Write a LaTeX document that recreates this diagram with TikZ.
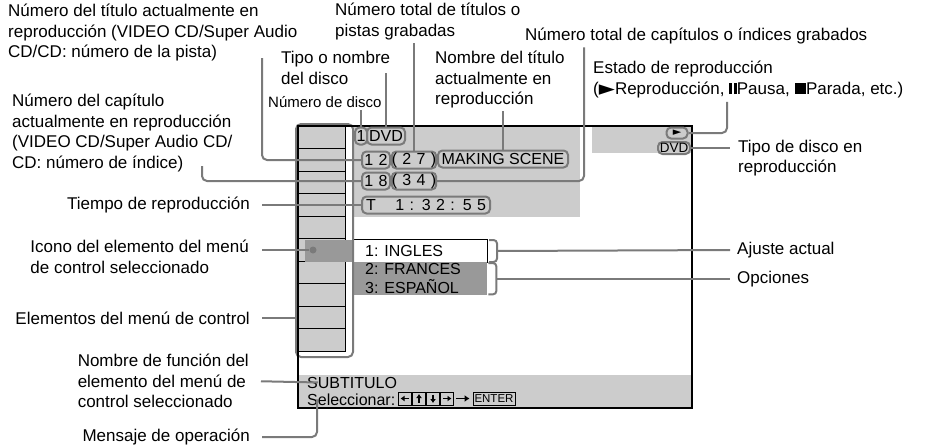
\documentclass[tikz,border=0pt]{standalone}
\usepackage{fontspec}
\setmainfont{Liberation Sans}
\newfontfamily\symfont{DejaVu Sans}
\usetikzlibrary{arrows.meta,positioning,calc}
\definecolor{linegray}{HTML}{7A7A7A}
\definecolor{screengray}{HTML}{CCCCCC}
\definecolor{selgray}{HTML}{999999}

\begin{document}
\begin{tikzpicture}[x=1pt,y=-1pt,font=\fontsize{17}{20.5}\selectfont,
  lbl/.style={inner sep=0pt,align=left},
  conn/.style={linegray,line width=2pt,rounded corners=5pt},
  scr/.style={draw=linegray,line width=2pt,rounded corners=4.5pt,inner sep=0pt,
    minimum height=17pt,font=\fontsize{16}{16}\selectfont},
  scrtxt/.style={inner sep=0pt,anchor=base west,font=\fontsize{16}{16}\selectfont},
  keybox/.style={draw,line width=0.9pt,minimum width=13pt,minimum height=13pt,inner sep=0pt}]
  \useasboundingbox (0,0) rectangle (932,447);

  % screen areas
  \fill[screengray] (352,126) rectangle (580,217);
  \fill[screengray] (592,126) rectangle (692,153);
  \fill[screengray] (298,375) rectangle (692,408);
  \foreach \r in {0,...,9}
    \draw[fill=screengray,line width=1pt] (298,126+22.5*\r) rectangle (345,148.5+22.5*\r);
  \fill[selgray] (305,240) rectangle (352,262);
  \node[circle,fill=linegray,inner sep=0pt,minimum size=7pt] (dot) at (313,250) {};
  \node[draw,line width=1pt,fill=white,anchor=north west,inner sep=0pt,
    minimum width=135pt,minimum height=23pt] (ingles) at (352,239) {};
  \node[fill=selgray,anchor=north west,inner sep=0pt,
    minimum width=135pt,minimum height=33pt] (opts) at (352,262) {};
  \node[scrtxt] at (365,256) {1: INGLES};
  \node[scrtxt] at (365,274) {2: FRANCES};
  \node[scrtxt] at (365,293) {3: ESPAÑOL};
  \node[draw=linegray,line width=2pt,rounded corners=5pt,anchor=north west,inner sep=0pt,
    minimum width=57pt,minimum height=233pt] (menu) at (295,123) {};
  \draw[line width=2pt] (298,126) rectangle (692,408);

  % info on screen
  \node[scr,minimum width=12pt] (disc) at (361,136) {1};
  \node[scr,minimum width=38pt] (dvd) at (386,136) {DVD};
  \node[scr,minimum width=28pt] (tit) at (376,160) {1\,\,2};
  \node[scr,minimum width=42pt] (tottit) at (414,160) {(\,\,2\,\,7\,\,)};
  \node[scr,minimum width=130pt] (name) at (503,159) {MAKING SCENE};
  \node[scr,minimum width=28pt] (chap) at (376,181) {1\,\,8};
  \node[scr,minimum width=42pt] (totchap) at (414,181) {(\,\,3\,\,4\,\,)};
  \node[scr,minimum width=128pt,text width=120pt] (time) at (426,205) {T\hfill 1 : 3 2 : 5 5};
  \node[scr,minimum width=21pt,minimum height=11pt,font=\symfont\fontsize{11}{11}\selectfont] (play) at (677,133) {►};
  \node[scr,minimum width=32pt,minimum height=12pt,font=\fontsize{13.5}{13.5}\selectfont] (dvdtype) at (674,148) {DVD};

  % bottom bar
  \node[scrtxt] (func) at (307,388) {SUBTITULO};
  \node[scrtxt] (msg) at (307,405) {Seleccionar:};
  \foreach \k/\x/\a in {kl/405/180,ku/419/90,kd/433/270,kr/447/0} {
    \node[keybox] (\k) at (\x,398.5) {};
    \draw[-{Latex[length=4pt,width=6pt]},line width=1.4pt]
      ([shift={(\a+180:4pt)}]\k.center) -- ([shift={(\a:4.5pt)}]\k.center);
  }
  \node[draw,line width=0.9pt,inner sep=1.5pt,minimum height=13pt,font=\fontsize{11.5}{11.5}\selectfont] (enter) at (494,398.5) {ENTER};
  \draw[-{Latex[length=5pt,width=7pt]},line width=1.6pt] (kr.east) ++(2,0) -- ([xshift=-3pt]enter.west);

  % labels
  \node[lbl,anchor=north west] (lblTitle) at (8,4) {Número del título actualmente en\\reproducción (VIDEO CD/Super Audio\\CD/CD: número de la pista)};
  \node[lbl,anchor=north west] (lblChap) at (12,94) {Número del capítulo\\actualmente en reproducción\\(VIDEO CD/Super Audio CD/\\CD: número de índice)};
  \node[lbl,anchor=north west] (lblType) at (281,51) {Tipo o nombre\\del disco};
  \node[lbl,anchor=north west,font=\fontsize{15}{15}\selectfont] (lblDisc) at (268,96) {Número de disco};
  \node[lbl,anchor=north west] (lblTotTit) at (335,3) {Número total de títulos o\\pistas grabadas};
  \node[lbl,anchor=north west] (lblName) at (435,51) {Nombre del título\\actualmente en\\reproducción};
  \node[lbl,anchor=north west] (lblTotChap) at (525,28) {Número total de capítulos o índices grabados};
  \node[lbl,anchor=north west] (lblState) at (593,61) {Estado de reproducción\\({\symfont\fontsize{21}{20}\selectfont\raisebox{-1pt}{►}}Reproducción, \rule{3pt}{11.5pt}\hspace{1.5pt}\rule{3pt}{11.5pt}Pausa, \rule{11.5pt}{11.5pt}Parada, etc.)};
  \node[lbl,anchor=west] (lblDiscType) at (738,158) {Tipo de disco en\\reproducción};
  \node[lbl,anchor=east] (lblTime) at (250,205) {Tiempo de reproducción};
  \node[lbl,anchor=east] (lblIcon) at (249,257) {Icono del elemento del menú\\de control seleccionado};
  \node[lbl,anchor=east] (lblItems) at (250,318) {Elementos del menú de control};
  \node[lbl,anchor=east] (lblFunc) at (249,381) {Nombre de función del\\elemento del menú de\\control seleccionado};
  \node[lbl,anchor=east] (lblMsg) at (250,437) {Mensaje de operación};
  \node[lbl,anchor=west] (lblCur) at (737,250) {Ajuste actual};
  \node[lbl,anchor=west] (lblOpt) at (737,279) {Opciones};

  % connectors
  \coordinate (titleTail) at (262,58);
  \coordinate (chapTail) at (202,166);
  \draw[conn] (titleTail) |- (tit.west);
  \draw[conn] (chapTail) |- (chap.west);
  \draw[conn] (dvd.north) -- ([yshift=-5pt]dvd.north |- lblType.east);
  \draw[conn] (disc.north) -- ([yshift=-2pt]disc.north |- lblDisc.south);
  \draw[conn] (tottit.north) -- ([yshift=-3pt]tottit.north |- lblTotTit.south);
  \draw[conn] (name.north) -- ([yshift=-3pt]name.north |- lblName.south);
  \draw[conn] ([xshift=59pt,yshift=-3pt]lblTotChap.south west) |- (totchap.east);
  \draw[conn] ([xshift=134pt,yshift=-4pt]lblState.south west) |- (play.east);
  \draw[conn,shorten >=8pt] (dvdtype.east) -- (dvdtype.east -| lblDiscType.west);
  \draw[conn,shorten <=12pt] (lblTime.east) -- (time.west);
  \draw[conn] ($(dot -| lblIcon.east)+(13,0)$) -- (dot);
  \draw[conn,shorten <=12pt] (lblItems.east) -- (lblItems.east -| menu.west);
  \draw[conn,shorten <=12pt] (lblFunc.east) -- ($(func.west)+(11,0)$);
  \draw[conn] ($(lblMsg.east)+(12,0)$) -| ($(msg.west)+(10,0)$);
  \draw[conn,rounded corners=3.5pt] ([xshift=1pt,yshift=-1pt]ingles.north east) -| ([xshift=9pt]ingles.east) |- ([xshift=1pt,yshift=1pt]ingles.south east);
  \draw[conn,shorten >=7pt] ([xshift=9pt]ingles.east) -- (lblCur.west);
  \draw[conn,rounded corners=3.5pt] ([xshift=1pt,yshift=-1pt]opts.north east) -| ([xshift=9pt]opts.east) |- ([xshift=1pt,yshift=1pt]opts.south east);
  \draw[conn,shorten >=7pt] ([xshift=9pt]opts.east) -- (opts.east -| lblOpt.west);
\end{tikzpicture}
\end{document}
